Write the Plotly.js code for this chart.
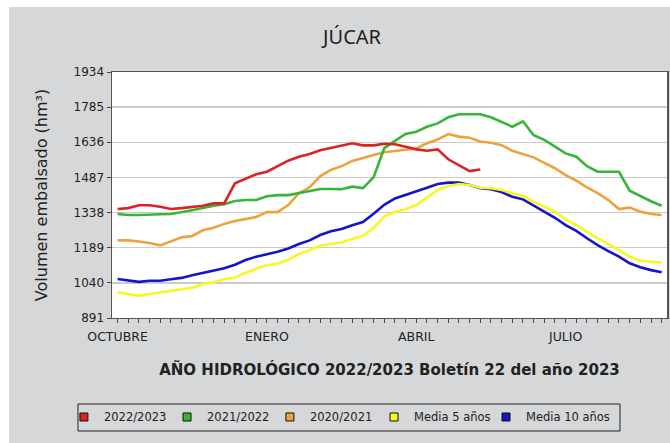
<!DOCTYPE html>
<html>
<head>
<meta charset="utf-8">
<script src="https://cdn.plot.ly/plotly-3.0.1.min.js"></script>
<style>
html, body { margin: 0; padding: 0; background: #ffffff; width: 670px; height: 443px; overflow: hidden; }
#chart { position: absolute; left: 9px; top: 7px; width: 661px; height: 436px; }
</style>
</head>
<body>
<div id="chart"></div>
<script>
// Week index of hydrological year (0 = start of October)
const weeks = Array.from({length: 52}, (_, i) => i);

const seriesNames = ['2022/2023', '2021/2022', '2020/2021', 'Media 5 años', 'Media 10 años'];
const seriesColors = ['#dc2323', '#36b536', '#eea23c', '#f7f722', '#1414c8'];

const y2022_2023 = [1353,1357,1369,1369,1363,1353,1357,1362,1367,1377,1377,1462,1480,1500,1511,1535,1558,1575,1586,1602,1612,1622,1632,1623,1623,1630,1628,1617,1606,1600,1606,1564,1540,1514,1521];
const y2021_2022 = [1332,1328,1328,1328,1331,1332,1339,1348,1357,1367,1373,1387,1391,1391,1407,1412,1412,1421,1428,1438,1438,1437,1448,1442,1488,1611,1642,1671,1681,1702,1716,1742,1755,1755,1755,1742,1723,1702,1725,1666,1646,1617,1589,1575,1535,1511,1511,1511,1431,1408,1386,1367];
const y2020_2021 = [1220,1220,1215,1209,1199,1217,1233,1239,1263,1274,1290,1302,1309,1319,1340,1340,1370,1420,1445,1493,1519,1535,1557,1571,1582,1594,1600,1606,1610,1632,1648,1671,1660,1655,1639,1634,1624,1600,1586,1572,1549,1526,1497,1473,1445,1420,1391,1353,1359,1342,1332,1328];
const yMedia5 = [1000,991,985,993,1000,1004,1014,1019,1035,1042,1056,1062,1083,1100,1116,1121,1138,1162,1178,1198,1206,1212,1226,1240,1274,1321,1342,1352,1370,1403,1434,1451,1459,1455,1443,1441,1434,1420,1410,1384,1363,1342,1309,1285,1257,1229,1205,1179,1151,1134,1130,1126];
const yMedia10 = [1056,1049,1044,1049,1049,1055,1061,1072,1083,1094,1102,1117,1137,1151,1161,1172,1186,1205,1220,1243,1259,1268,1284,1298,1333,1371,1398,1412,1426,1443,1459,1465,1465,1455,1441,1437,1425,1405,1394,1367,1342,1316,1285,1260,1229,1200,1175,1151,1123,1106,1094,1085];

const yTickVals = [891, 1040, 1189, 1338, 1487, 1636, 1785, 1934];
const monthLabels = ['OCTUBRE', 'ENERO', 'ABRIL', 'JULIO'];
const monthWeeks = [0, 14, 28, 42];

const allY = [y2022_2023, y2021_2022, y2020_2021, yMedia5, yMedia10];

const xTickText = weeks.map(w => {
  const idx = monthWeeks.indexOf(w);
  return idx >= 0 ? monthLabels[idx] : '';
});

const font = 'DejaVu Sans, Verdana, sans-serif';

// one legend per entry so each swatch sits where the original has it
const legendIds = ['legend', 'legend2', 'legend3', 'legend4', 'legend5'];
const legendX = [-0.0866, 0.0991, 0.2845, 0.4721, 0.6739];

const traces = [];
// draw order: averages first, then years (red on top)
const order = [4, 3, 2, 1, 0];
order.forEach(i => {
  traces.push({
    type: 'scatter', mode: 'lines',
    x: weeks.slice(0, allY[i].length), y: allY[i],
    name: seriesNames[i],
    line: {color: seriesColors[i], width: 2.6},
    showlegend: false, hoverinfo: 'x+y'
  });
});
seriesNames.forEach((n, i) => {
  traces.push({
    type: 'scatter', mode: 'markers',
    x: [null], y: [null], name: n,
    marker: {symbol: 'square', size: 8, color: seriesColors[i], line: {color: '#111', width: 1}},
    showlegend: true, legend: legendIds[i]
  });
});

const layout = {
  width: 661, height: 436,
  paper_bgcolor: '#d6d7d9',
  plot_bgcolor: '#ffffff',
  margin: {l: 103, r: 3, t: 65, b: 125},
  title: {
    text: 'JÚCAR',
    font: {family: 'Noto Sans, DejaVu Sans, sans-serif', size: 20, color: '#222'},
    xref: 'container', yref: 'container', x: 0.519, y: 0.931,
    xanchor: 'center', yanchor: 'middle'
  },
  xaxis: {
    range: [-0.52, 51.5],
    tickmode: 'array', tickvals: weeks, ticktext: xTickText,
    ticks: 'outside', ticklen: 4, tickwidth: 1, tickcolor: '#444',
    ticklabelstandoff: 3,
    showgrid: false, zeroline: false,
    showline: true, linecolor: '#555', linewidth: 1, mirror: true,
    tickfont: {family: font, size: 12.5, color: '#222'},
    title: {text: 'AÑO HIDROLÓGICO 2022/2023 Boletín 22 del año 2023',
            font: {family: font, size: 15, color: '#222', weight: 'bold'}, standoff: 21}
  },
  yaxis: {
    range: [891, 1934],
    tickmode: 'array', tickvals: yTickVals,
    ticks: 'outside', ticklen: 4, tickwidth: 1, tickcolor: '#444',
    showgrid: true, gridcolor: '#cbcbcb', gridwidth: 1.5,
    zeroline: false,
    showline: true, linecolor: '#555', linewidth: 1.5, mirror: true,
    tickfont: {family: font, size: 12, color: '#222'},
    title: {text: 'Volumen embalsado (hm³)',
            font: {family: font, size: 16, color: '#222'}, standoff: 22}
  },
  showlegend: true,
  shapes: [{
    type: 'rect', xref: 'paper', yref: 'paper',
    x0: -0.0613, x1: 0.9153, y0: -0.3496, y1: -0.4593,
    line: {color: '#222', width: 1}, fillcolor: 'rgba(0,0,0,0)', layer: 'above'
  }]
};
legendIds.forEach((id, i) => {
  layout[id] = {
    orientation: 'h', x: legendX[i], y: -0.4024, xanchor: 'left', yanchor: 'middle',
    borderwidth: 0, bgcolor: 'rgba(0,0,0,0)',
    font: {family: font, size: 11.5, color: '#222'},
    itemwidth: 30
  };
});

Plotly.newPlot('chart', traces, layout, {displayModeBar: false, staticPlot: true});
</script>
</body>
</html>
